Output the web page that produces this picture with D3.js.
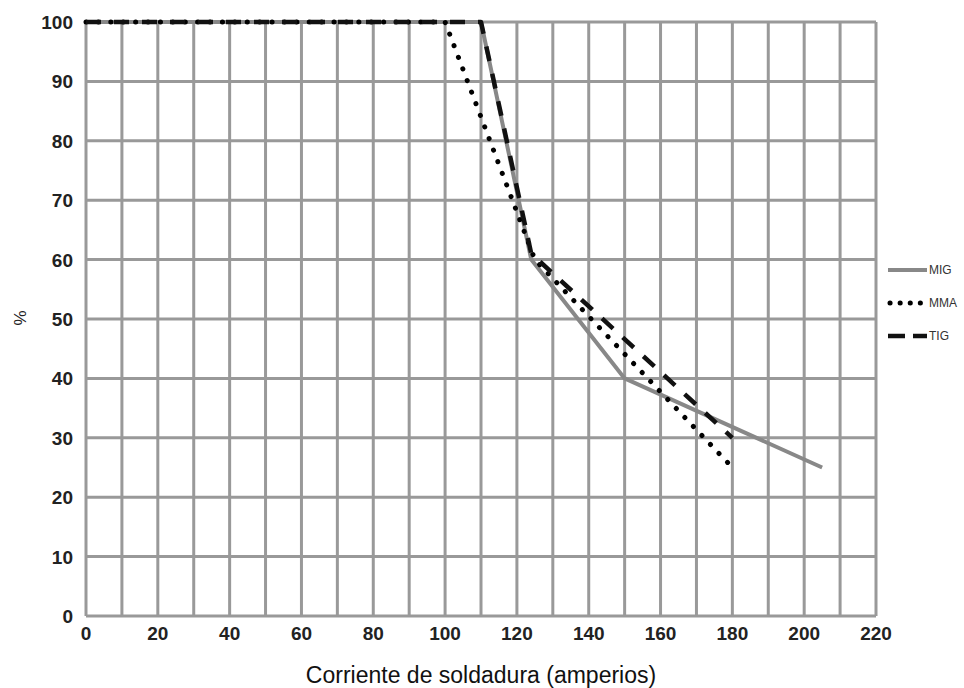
<!DOCTYPE html>
<html lang="en">
<head>
    <script src="https://d3js.org/d3.v7.min.js"></script>
    <style>
        body {
            margin: 0;
            background: #fff;
            font-family: Arial, 'Liberation Sans', sans-serif;
        }
        .grid line {
            stroke: #999;
            stroke-width: 3px;
        }
        .tick-label {
            font-size: 19px;
            font-weight: bold;
            fill: #222;
        }
        .legend-label {
            font-size: 12px;
            fill: #333;
        }
    </style>
</head>
<body>
<script>
    // Data
    var migData = [[0, 100], [110, 100], [124, 60], [150, 40], [205, 25]];
    var mmaData = [[0, 100], [100, 100], [125, 60], [180, 25]];
    var tigData = [[0, 100], [110, 100], [124, 61], [180, 30]];

    var seriesNames = ["MIG", "MMA", "TIG"];
    var xTickValues = [0, 20, 40, 60, 80, 100, 120, 140, 160, 180, 200, 220];
    var yTickValues = [0, 10, 20, 30, 40, 50, 60, 70, 80, 90, 100];

    var width = 964;
    var height = 688;

    var svg = d3.select("body").append("svg")
        .attr("width", width)
        .attr("height", height);

    var x = d3.scaleLinear().domain([0, 220]).range([86, 876]);
    var y = d3.scaleLinear().domain([0, 100]).range([616, 22]);

    // Grid lines every 10 units
    var grid = svg.append("g").attr("class", "grid");
    grid.selectAll(".vline")
        .data(d3.range(0, 221, 10))
        .enter().append("line")
        .attr("x1", function(d) { return x(d); })
        .attr("x2", function(d) { return x(d); })
        .attr("y1", y(0))
        .attr("y2", y(100));
    grid.selectAll(".hline")
        .data(yTickValues)
        .enter().append("line")
        .attr("x1", x(0))
        .attr("x2", x(220))
        .attr("y1", function(d) { return y(d); })
        .attr("y2", function(d) { return y(d); });

    // Tick labels
    svg.selectAll(".ylab")
        .data(yTickValues)
        .enter().append("text")
        .attr("class", "tick-label")
        .attr("x", 73)
        .attr("y", function(d) { return y(d) + 7; })
        .attr("text-anchor", "end")
        .text(function(d) { return d; });

    svg.selectAll(".xlab")
        .data(xTickValues)
        .enter().append("text")
        .attr("class", "tick-label")
        .attr("x", function(d) { return x(d); })
        .attr("y", 640)
        .attr("text-anchor", "middle")
        .text(function(d) { return d; });

    // Axis titles
    svg.append("text")
        .attr("x", 481)
        .attr("y", 683)
        .attr("text-anchor", "middle")
        .style("font-size", "23px")
        .style("fill", "#111")
        .text("Corriente de soldadura (amperios)");

    svg.append("text")
        .attr("transform", "translate(26,318) rotate(-90)")
        .attr("text-anchor", "middle")
        .style("font-size", "17px")
        .style("fill", "#222")
        .text("%");

    // Series
    var line = d3.line()
        .x(function(d) { return x(d[0]); })
        .y(function(d) { return y(d[1]); });

    var styles = {
        MIG: {stroke: "#888", width: 4, dash: null, cap: "butt"},
        MMA: {stroke: "#000", width: 5, dash: "0.1 12.3", cap: "round"},
        TIG: {stroke: "#111", width: 4.5, dash: "15 13", cap: "butt"}
    };
    var allData = {MIG: migData, MMA: mmaData, TIG: tigData};

    seriesNames.forEach(function(name) {
        var s = styles[name];
        svg.append("path")
            .datum(allData[name])
            .attr("d", line)
            .attr("fill", "none")
            .attr("stroke", s.stroke)
            .attr("stroke-width", s.width)
            .attr("stroke-dasharray", s.dash)
            .attr("stroke-linecap", s.cap)
            .attr("stroke-linejoin", "round");
    });

    // Legend
    var legendY = [270, 303, 336];
    var legendDash = {MIG: null, MMA: "0.1 10", TIG: "17 8"};
    seriesNames.forEach(function(name, i) {
        var s = styles[name];
        svg.append("line")
            .attr("x1", name === "MMA" ? 890 : 888)
            .attr("x2", 927)
            .attr("y1", legendY[i])
            .attr("y2", legendY[i])
            .attr("stroke", s.stroke)
            .attr("stroke-width", s.width)
            .attr("stroke-dasharray", legendDash[name])
            .attr("stroke-linecap", s.cap);
        svg.append("text")
            .attr("class", "legend-label")
            .attr("x", 929)
            .attr("y", legendY[i] + 4)
            .text(name);
    });
</script>
</body>
</html>
